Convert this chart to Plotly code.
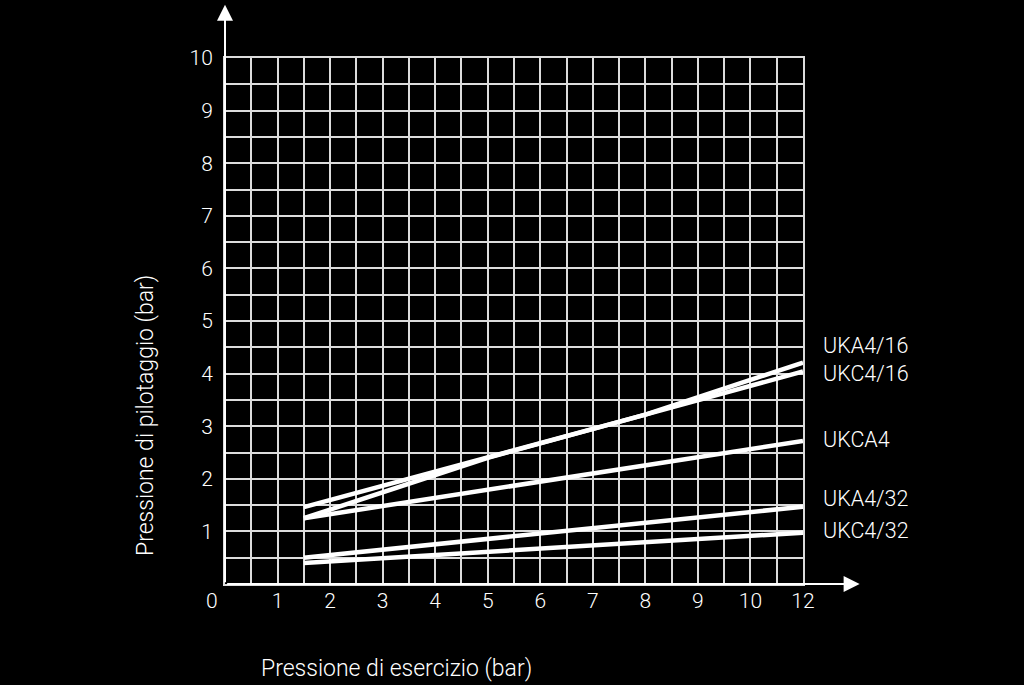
import plotly.graph_objects as go

# pressione di esercizio (position on the drawn scale, last tick is labelled 12)
x_start_end = [1.5, 11]
x_four = [1.5, 5, 8, 11]

uka4_16 = [1.46, 2.40, 3.22, 4.21]
ukc4_16 = [1.25, 2.40, 3.22, 4.04]
ukca4 = [1.25, 2.72]
uka4_32 = [0.50, 1.47]
ukc4_32 = [0.40, 0.975]

x_tickvals = [1, 2, 3, 4, 5, 6, 7, 8, 9, 10, 11]
x_ticktext = ["1", "2", "3", "4", "5", "6", "7", "8", "9", "10", "12"]
y_tickvals = [1, 2, 3, 4, 5, 6, 7, 8, 9, 10]

series = [
    ("UKA4/16", x_four, uka4_16),
    ("UKC4/16", x_four, ukc4_16),
    ("UKCA4", x_start_end, ukca4),
    ("UKA4/32", x_start_end, uka4_32),
    ("UKC4/32", x_start_end, ukc4_32),
]
# the two /16 labels sit tight together, drawn as one two-line text
label_groups = [("UKA4/16<br>UKC4/16", 4.27), ("UKCA4", 2.74), ("UKA4/32", 1.62), ("UKC4/32", 1.02)]

FONT = "Roboto, DejaVu Sans, sans-serif"
GRID = "#dcdcdc"
txt = dict(size=21, color="white", family=FONT, weight=300)
lab = dict(size=21.5, color="white", family=FONT, weight=300)
ttl = dict(size=23, color="white", family=FONT, weight=300)

fig = go.Figure()
for name, xs, ys in series:
    fig.add_trace(go.Scatter(x=xs, y=ys, mode="lines", name=name,
                             line=dict(color="white", width=4.5), showlegend=False))

for text, ly in label_groups:
    fig.add_annotation(x=11, y=ly, xref="x", yref="y", text=text, showarrow=False,
                       xanchor="left", yanchor="middle", align="left", xshift=18, font=lab)

# axis arrows
fig.add_annotation(x=1.098, y=0, xref="paper", yref="paper", ax=-634, ay=0,
                   showarrow=True, arrowhead=2, arrowsize=1.6, arrowwidth=2, arrowcolor="white", text="")
fig.add_annotation(x=0, y=1.101, xref="paper", yref="paper", ax=0, ay=579,
                   showarrow=True, arrowhead=2, arrowsize=1.6, arrowwidth=2, arrowcolor="white", text="")

# origin label
fig.add_annotation(x=0, y=0, xref="x", yref="y", text="0", showarrow=False,
                   xshift=-13, yshift=-17, font=txt)

# axis titles
fig.add_annotation(x=396, y=668, xref="paper", yref="paper", text="Pressione di esercizio (bar)",
                   showarrow=False, xanchor="center", yanchor="middle", font=ttl)
fig.add_annotation(x=146, y=416, xref="paper", yref="paper", text="Pressione di pilotaggio (bar)",
                   showarrow=False, textangle=-90, xanchor="center", yanchor="middle", font=ttl)

# annotations above were placed in pixels; convert them to paper fractions
L, R, T, B = 225, 221, 58, 101
pw, ph = 1024 - L - R, 685 - T - B
for a in fig.layout.annotations[-2:]:
    a.x = (a.x - L) / pw
    a.y = (685 - B - a.y) / ph

fig.update_xaxes(range=[0, 11], showgrid=True, gridcolor=GRID, gridwidth=2,
                 tickmode="array", tickvals=x_tickvals, ticktext=x_ticktext,
                 ticks="", zeroline=False, showline=True, linecolor=GRID, linewidth=2, mirror=True,
                 tickfont=txt, ticklabelstandoff=-3,
                 minor=dict(dtick=0.5, tick0=0, showgrid=True, gridcolor=GRID, gridwidth=2))
fig.update_yaxes(range=[0, 10], showgrid=True, gridcolor=GRID, gridwidth=2,
                 tickmode="array", tickvals=y_tickvals,
                 ticks="", zeroline=False, showline=True, linecolor=GRID, linewidth=2, mirror=True,
                 tickfont=txt, ticklabelstandoff=6,
                 minor=dict(dtick=0.5, tick0=0, showgrid=True, gridcolor=GRID, gridwidth=2))

fig.update_layout(width=1024, height=685, paper_bgcolor="black", plot_bgcolor="black",
                  margin=dict(l=L, r=R, t=T, b=B))

fig.write_html("out.html", config={"displayModeBar": False},
               post_script="document.body.style.margin='0';document.body.style.background='black';")
